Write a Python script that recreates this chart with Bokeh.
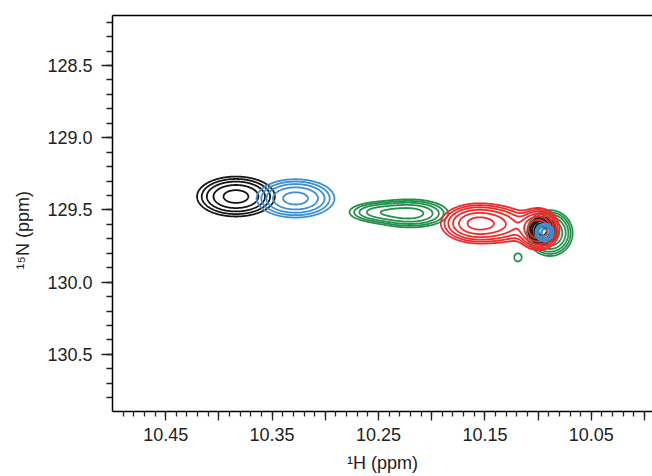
import numpy as np
from bokeh.plotting import figure
from bokeh.models import Range1d, FixedTicker, PrintfTickFormatter, LinearAxis, Title
from bokeh.embed import file_html
from bokeh.resources import INLINE

# ---- axis ticks / labels ----
x_major_ticks = [10.45, 10.40, 10.35, 10.30, 10.25, 10.20, 10.15, 10.10, 10.05, 10.00]
x_blank_labels = {10.40: "", 10.30: "", 10.20: "", 10.10: "", 10.00: ""}
x_minor_ticks = [round(9.99 + 0.01 * i, 2) for i in range(1, 51)]
y_major_ticks = [128.5, 129.0, 129.5, 130.0, 130.5]
y_minor_ticks = [round(128.2 + 0.1 * i, 1) for i in range(0, 27)]
x_label = "\u00b9H (ppm)"
y_label = "\u00b9\u2075N (ppm)"

# ---- peak lists (1H ppm, 15N ppm, height, widths) ----
black_h = [10.384, 10.096]
black_n = [129.407, 129.645]
black_amp = [0.60, 0.60]
black_wh = [0.0193, 0.0068]
black_wn = [0.073, 0.050]

blue_h = [10.328, 10.094]
blue_n = [129.420, 129.656]
blue_amp = [0.60, 0.40]
blue_wh = [0.0193, 0.0051]
blue_wn = [0.070, 0.037]

green_h = [10.2195, 10.252, 10.089, 10.119]
green_n = [129.524, 129.515, 129.660, 129.829]
green_amp = [0.60, 0.33, 1.00, 0.13]
green_wh = [0.0185, 0.016, 0.0100, 0.0047]
green_wn = [0.051, 0.040, 0.074, 0.038]

red_h = [10.156, 10.128, 10.0995]
red_n = [129.593, 129.605, 129.633]
red_amp = [0.90, 0.22, 1.20]
red_wh = [0.0169, 0.013, 0.0088]
red_wn = [0.066, 0.070, 0.065]

contour_levels = [0.10, 0.15, 0.22, 0.33, 0.50, 0.75]

FONT = "Liberation Sans"
TXT = "#222222"

grid_h = np.linspace(10.03, 10.47, 741)
grid_n = np.linspace(128.95, 130.15, 301)
H, N = np.meshgrid(grid_h, grid_n)


def spectrum(hs, ns, amps, whs, wns):
    z = np.zeros_like(H)
    for h0, n0, a, sh, sn in zip(hs, ns, amps, whs, wns):
        z += a * np.exp(-0.5 * (((H - h0) / sh) ** 2 + ((N - n0) / sn) ** 2))
    return z


p = figure(width=652, height=476, output_backend="svg", toolbar_location=None,
           x_range=Range1d(10.50, 9.9925), y_range=Range1d(130.895, 128.154),
           min_border_left=111, min_border_right=0, min_border_top=15, min_border_bottom=65)
p.xgrid.visible = False
p.ygrid.visible = False
p.outline_line_color = None
p.background_fill_color = "white"
p.border_fill_color = "white"

for (hs, ns, am, wh, wn, col) in [
    (green_h, green_n, green_amp, green_wh, green_wn, "#23914b"),
    (black_h, black_n, black_amp, black_wh, black_wn, "#151515"),
    (red_h, red_n, red_amp, red_wh, red_wn, "#ee2b2b"),
    (blue_h, blue_n, blue_amp, blue_wh, blue_wn, "#3b8fd2"),
]:
    z = spectrum(hs, ns, am, wh, wn)
    p.contour(grid_h, grid_n, z, contour_levels, line_color=col, line_width=1.8)

# x axis
xa = p.xaxis[0]
xa.ticker = FixedTicker(ticks=x_major_ticks, minor_ticks=x_minor_ticks)
xa.formatter = PrintfTickFormatter(format="%.2f")
xa.major_label_overrides = x_blank_labels
xa.major_tick_out = 9
xa.minor_tick_out = 5
xa.major_label_standoff = 7
xa.axis_label = x_label
xa.axis_label_standoff = 9

# y axis
ya = p.yaxis[0]
ya.ticker = FixedTicker(ticks=y_major_ticks, minor_ticks=y_minor_ticks)
ya.formatter = PrintfTickFormatter(format="%.1f")
ya.major_tick_out = 11
ya.minor_tick_out = 6
ya.major_label_standoff = 9

for a in [xa, ya]:
    a.major_tick_in = 0
    a.minor_tick_in = 0
    a.axis_line_color = "black"
    a.axis_line_width = 1.5
    a.major_tick_line_color = "#222222"
    a.minor_tick_line_color = "#222222"
    a.major_tick_line_width = 1.3
    a.minor_tick_line_width = 1.3
    a.major_label_text_font = FONT
    a.major_label_text_font_size = "18px"
    a.major_label_text_color = TXT
    a.axis_label_text_font = FONT
    a.axis_label_text_font_size = "18px"
    a.axis_label_text_font_style = "normal"
    a.axis_label_text_color = TXT

# top border line
top = LinearAxis(ticker=FixedTicker(ticks=[]), axis_line_color="black", axis_line_width=1.5,
                 major_tick_line_color=None, minor_tick_line_color=None,
                 major_tick_out=0, minor_tick_out=0)
p.add_layout(top, "above")

# y-axis title
p.add_layout(Title(text=y_label, align="left", offset=142, vertical_align="middle",
                   text_font=FONT, text_font_size="18px", text_font_style="normal",
                   text_color=TXT, standoff=22), "left")

open("out.html", "w").write(file_html(p, INLINE))
